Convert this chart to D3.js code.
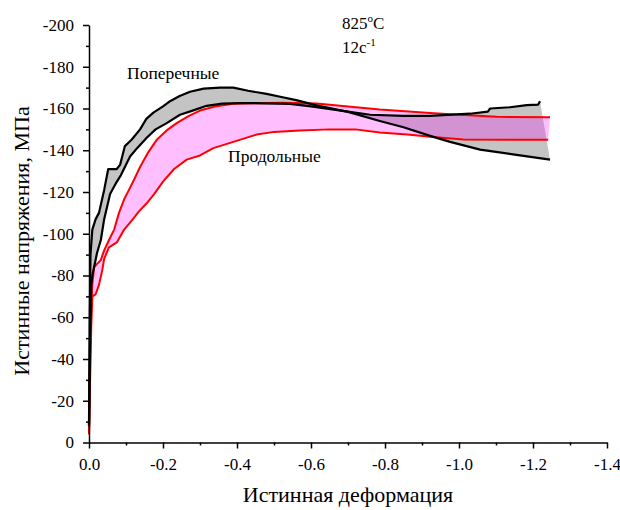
<!DOCTYPE html>
<html>
<head>
<meta charset="utf-8">
<script src="https://cdn.jsdelivr.net/npm/d3@7"></script>
<style>
  body { margin: 0; background: #fff; }
  svg { display: block; font-family: "Liberation Serif", "Times New Roman", serif; }
  .axis path, .axis line { stroke: #000; stroke-width: 1.5; }
  .axis text { font-size: 17px; fill: #000; font-family: "Liberation Serif", "Times New Roman", serif; }
</style>
</head>
<body>
<div id="chart"></div>
<script>
// Поперечные - upper and lower bounds (strain, stress)
const poperUpper = [
  [0, -8], [-0.002, -60], [-0.004, -90], [-0.009, -102], [-0.018, -107], [-0.027, -110],
  [-0.041, -121], [-0.052, -131], [-0.075, -131], [-0.084, -133], [-0.097, -142],
  [-0.115, -145], [-0.138, -150], [-0.155, -155], [-0.174, -158], [-0.2, -161],
  [-0.219, -163.5], [-0.245, -166], [-0.273, -168], [-0.31, -169.5], [-0.354, -170],
  [-0.39, -170], [-0.43, -168.5], [-0.48, -167], [-0.52, -165.5], [-0.56, -164],
  [-0.615, -161.5], [-0.7, -158.4], [-0.786, -154], [-0.85, -151], [-0.92, -147],
  [-0.976, -144], [-1.057, -140.3], [-1.146, -138], [-1.246, -135.5]
];
const poperLower = [
  [0, -8], [-0.003, -50], [-0.006, -75], [-0.009, -80], [-0.022, -91], [-0.032, -97],
  [-0.041, -107], [-0.057, -119], [-0.072, -124], [-0.086, -128], [-0.111, -137],
  [-0.13, -141], [-0.156, -146], [-0.18, -150], [-0.21, -153], [-0.246, -157],
  [-0.28, -159], [-0.318, -161.3], [-0.36, -162.3], [-0.408, -162.6], [-0.47, -162.5],
  [-0.543, -162.2], [-0.6, -161], [-0.7, -158.5], [-0.76, -157], [-0.85, -156.5],
  [-0.922, -156.5], [-1.03, -157.5], [-1.078, -158.5], [-1.084, -160], [-1.138, -160.6],
  [-1.183, -161.6], [-1.214, -161.9], [-1.219, -163.5]
];
// Продольные - upper and lower bounds
const prodUpper = [
  [0, -4], [-0.003, -40], [-0.006, -65], [-0.009, -76], [-0.014, -84], [-0.032, -87.5],
  [-0.041, -92], [-0.054, -97], [-0.068, -102], [-0.081, -110], [-0.095, -116.5],
  [-0.108, -121], [-0.122, -126], [-0.138, -132], [-0.16, -139], [-0.183, -145],
  [-0.21, -149.5], [-0.237, -153], [-0.27, -156.5], [-0.3, -159], [-0.34, -161],
  [-0.39, -162.3], [-0.45, -162.5], [-0.52, -162.7], [-0.615, -162.4], [-0.7, -161],
  [-0.786, -159.5], [-0.922, -157.9], [-1.0, -157], [-1.102, -156], [-1.246, -155.8]
];
const prodLower = [
  [0, -4], [-0.003, -30], [-0.006, -55], [-0.009, -70], [-0.018, -71], [-0.027, -75.5],
  [-0.036, -82.7], [-0.041, -88], [-0.054, -93.5], [-0.076, -96], [-0.095, -102],
  [-0.117, -106.7], [-0.135, -110.7], [-0.158, -115], [-0.176, -119], [-0.2, -125],
  [-0.23, -131], [-0.264, -135.5], [-0.3, -137.5], [-0.336, -141], [-0.39, -144],
  [-0.453, -147.5], [-0.5, -148.8], [-0.57, -149.5], [-0.651, -150], [-0.72, -150],
  [-0.786, -148.5], [-0.86, -147.5], [-0.922, -146.5], [-1.012, -145.1], [-1.241, -145]
];

const xTicks = [0, -0.2, -0.4, -0.6, -0.8, -1.0, -1.2, -1.4];
const xMinor = [-0.1, -0.3, -0.5, -0.7, -0.9, -1.1, -1.3];
const yTicks = [0, -20, -40, -60, -80, -100, -120, -140, -160, -180, -200];
const yMinor = [-10, -30, -50, -70, -90, -110, -130, -150, -170, -190];

const width = 620, height = 510;
const svg = d3.select("#chart").append("svg")
    .attr("width", width)
    .attr("height", height);

const x = d3.scaleLinear().domain([0, -1.4]).range([89, 607]);
const y = d3.scaleLinear().domain([0, -200]).range([442.5, 25]);

const line = d3.line().x(d => x(d[0])).y(d => y(d[1]));

// bands: upper forward + lower reversed
const band = (up, lo) => line(up.concat(lo.slice().reverse())) + "Z";

svg.append("path").attr("d", band(poperUpper, poperLower))
    .attr("fill", "#000").attr("fill-opacity", 0.23);
svg.append("path").attr("d", band(prodUpper, prodLower))
    .attr("fill", "#ff00ff").attr("fill-opacity", 0.25);

// curves
[prodUpper, prodLower].forEach(s => {
  svg.append("path").attr("d", line(s))
    .attr("fill", "none").attr("stroke", "#ff0000")
    .attr("stroke-width", 2).attr("stroke-linejoin", "round");
});
[poperUpper, poperLower].forEach(s => {
  svg.append("path").attr("d", line(s))
    .attr("fill", "none").attr("stroke", "#000")
    .attr("stroke-width", 2.2).attr("stroke-linejoin", "round");
});

// axes
svg.append("g").attr("class", "axis")
    .attr("transform", `translate(0,${y(0)})`)
    .call(d3.axisBottom(x).tickValues(xTicks).tickSize(6).tickSizeOuter(0)
      .tickPadding(9).tickFormat(d => d.toFixed(1)));
svg.append("g").attr("class", "axis")
    .attr("transform", `translate(0,${y(0)})`)
    .call(d3.axisBottom(x).tickValues(xMinor).tickSize(3).tickFormat(""))
    .select(".domain").remove();

svg.append("g").attr("class", "axis")
    .attr("transform", `translate(${x(0)},0)`)
    .call(d3.axisLeft(y).tickValues(yTicks).tickSize(6).tickSizeOuter(0)
      .tickPadding(9).tickFormat(d => String(d)));
svg.append("g").attr("class", "axis")
    .attr("transform", `translate(${x(0)},0)`)
    .call(d3.axisLeft(y).tickValues(yMinor).tickSize(3).tickFormat(""))
    .select(".domain").remove();

// axis titles
svg.append("text")
    .attr("x", 348).attr("y", 502)
    .attr("text-anchor", "middle")
    .attr("font-size", 22)
    .text("Истинная деформация");

svg.append("text")
    .attr("transform", "translate(29,241) rotate(-90)")
    .attr("text-anchor", "middle")
    .attr("font-size", 22)
    .text("Истинные напряжения, МПа");

// annotations
const t1 = svg.append("text").attr("x", 342).attr("y", 29).attr("font-size", 17);
t1.append("tspan").text("825");
t1.append("tspan").attr("dy", -7).attr("font-size", 11).text("o");
t1.append("tspan").attr("dy", 7).text("C");

const t2 = svg.append("text").attr("x", 342).attr("y", 53).attr("font-size", 17);
t2.append("tspan").text("12c");
t2.append("tspan").attr("dy", -7).attr("font-size", 11).text("-1");

svg.append("text").attr("x", 127).attr("y", 79).attr("font-size", 17.5).text("Поперечные");
svg.append("text").attr("x", 228).attr("y", 162).attr("font-size", 17.5).text("Продольные");
</script>
</body>
</html>
